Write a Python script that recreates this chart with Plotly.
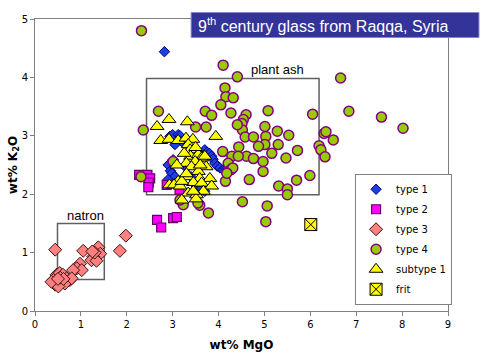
import plotly.graph_objects as go

# ---------------- data (wt% MgO, wt% K2O) ----------------
type1_x = [2.82, 2.94, 3.00, 3.12, 3.16, 3.05, 3.20, 2.90, 3.01, 2.95, 2.98, 3.05, 2.90, 3.10,
           3.70, 3.75, 3.80, 3.85, 3.88, 3.92, 3.97, 4.03, 4.10, 4.15, 4.20,
           3.50, 3.59, 3.63, 3.70, 3.40, 3.30, 3.55, 3.60]
type1_y = [4.44, 2.99, 3.02, 3.02, 3.00, 2.85, 2.90, 2.50, 2.59, 2.40, 2.36, 2.30, 2.25, 2.20,
           2.76, 2.72, 2.70, 2.65, 2.60, 2.53, 2.48, 2.45, 2.42, 2.45, 2.45,
           2.15, 2.19, 2.10, 2.05, 2.30, 2.45, 2.50, 2.60]

type2_x = [2.27, 2.45, 2.51, 2.48, 2.47, 2.87, 3.15, 2.66, 2.75, 3.01, 3.09]
type2_y = [2.33, 2.33, 2.27, 2.20, 2.12, 2.16, 2.08, 1.56, 1.43, 1.59, 1.61]

type3_x = [0.44, 1.05, 1.38, 1.42, 1.27, 1.23, 1.34, 0.98, 0.91, 1.02, 0.83, 1.85, 1.98,
           0.47, 0.54, 0.61, 0.40, 0.47, 0.44, 0.58, 0.69, 0.76, 0.65, 0.51, 0.80, 0.55,
           0.36, 0.62, 0.50, 1.30, 1.25]
type3_y = [1.05, 1.03, 1.09, 0.98, 0.93, 0.87, 0.86, 0.81, 0.73, 0.70, 0.70, 1.03, 1.29,
           0.62, 0.65, 0.62, 0.53, 0.50, 0.45, 0.50, 0.56, 0.53, 0.47, 0.42, 0.56, 0.57,
           0.50, 0.55, 0.55, 1.00, 1.02]

type4_x = [2.32, 4.10, 4.41, 4.14, 4.16, 4.32, 4.05, 3.71, 3.85, 2.69, 2.36, 3.50, 3.73, 4.27,
           4.60, 4.54, 4.51, 5.08, 6.05, 4.52, 4.58, 4.76, 5.03, 5.01, 5.28, 5.53, 5.01, 5.30,
           4.44, 4.87, 4.09, 5.16, 5.72, 4.61, 4.76, 4.29, 5.47, 4.21, 4.27, 4.97, 4.67, 5.70,
           5.99, 5.31, 5.50, 5.50, 6.19, 6.23, 6.32, 6.30, 6.34, 6.50, 6.66, 6.84, 7.55, 8.02,
           4.97, 4.31, 4.52, 5.06, 5.03, 4.15, 4.18, 3.01, 3.78, 3.59, 3.23, 2.31, 4.43, 4.41,
           3.16, 3.55]
type4_y = [4.80, 4.21, 4.01, 3.82, 3.67, 3.65, 3.53, 3.42, 3.35, 3.42, 3.10, 3.15, 3.15, 3.39,
           3.36, 3.28, 3.21, 3.43, 3.37, 3.10, 2.98, 2.98, 2.99, 3.16, 3.08, 3.01, 2.85, 2.85,
           2.81, 2.82, 2.73, 2.70, 2.75, 2.65, 2.61, 2.65, 2.62, 2.53, 2.42, 2.56, 2.25, 2.24,
           2.32, 2.14, 2.09, 1.99, 2.83, 2.76, 2.64, 3.04, 3.07, 2.93, 3.99, 3.42, 3.32, 3.13,
           2.39, 2.45, 1.87, 1.80, 1.53, 2.22, 2.36, 2.56, 1.68, 1.81, 1.82, 2.30, 2.65, 3.19,
           1.90, 1.85]

sub1_x = [2.92, 3.32, 2.66, 3.94, 2.74, 2.92, 3.12, 3.29, 3.44, 3.34, 3.38, 3.39, 3.56, 3.63,
          3.70, 3.49, 3.30, 3.09, 3.41, 3.73, 3.56, 3.34, 3.59, 3.81, 3.12, 2.93, 3.03, 3.16,
          3.45, 3.63, 3.85, 3.67, 3.34, 3.52, 3.20, 3.51, 3.20, 3.25, 3.50, 3.60, 3.30, 3.45]
sub1_y = [3.28, 3.24, 3.16, 2.99, 2.92, 2.94, 2.92, 2.96, 2.94, 2.85, 2.76, 2.65, 2.68, 2.62,
          2.65, 2.56, 2.53, 2.50, 2.47, 2.47, 2.39, 2.30, 2.27, 2.27, 2.22, 2.16, 2.16, 2.14,
          2.20, 2.19, 2.14, 2.05, 2.02, 1.99, 1.90, 1.92, 2.22, 2.70, 2.80, 2.50, 2.35, 2.05]

frit_x = [6.01]
frit_y = [1.48]

# ---------------- figure ----------------
fig = go.Figure()

fig.add_trace(go.Scatter(x=type1_x, y=type1_y, mode="markers", name="type 1", legendgroup="a",
                         marker=dict(symbol="diamond", size=8, color="#1F3FE0",
                                     line=dict(color="#000080", width=1))))
fig.add_trace(go.Scatter(x=type2_x, y=type2_y, mode="markers", name="type 2", legendgroup="b",
                         marker=dict(symbol="square", size=9, color="#FF00FF",
                                     line=dict(color="#660066", width=1.2))))
fig.add_trace(go.Scatter(x=type3_x, y=type3_y, mode="markers", name="type 3", legendgroup="c",
                         marker=dict(symbol="diamond", size=10, color="#FF8080",
                                     line=dict(color="#3a1010", width=1))))
fig.add_trace(go.Scatter(x=type4_x, y=type4_y, mode="markers", name="type 4", legendgroup="d",
                         marker=dict(symbol="circle", size=10, color="#99CC00",
                                     line=dict(color="#800080", width=1.5))))
fig.add_trace(go.Scatter(x=sub1_x, y=sub1_y, mode="markers", name="subtype 1", legendgroup="e",
                         marker=dict(symbol="triangle-up", size=12, color="#FFFF00",
                                     line=dict(color="#000000", width=1))))
fig.add_trace(go.Scatter(x=frit_x, y=frit_y, mode="markers", name="frit", legendgroup="f",
                         marker=dict(symbol="square-x", size=12, color="#FFFF00",
                                     line=dict(color="#000000", width=1))))

# group boxes
fig.add_shape(type="rect", x0=2.43, x1=6.19, y0=1.99, y1=3.98, layer="below",
              line=dict(color="#606060", width=1.5))
fig.add_shape(type="rect", x0=0.49, x1=1.51, y0=0.54, y1=1.50, layer="below",
              line=dict(color="#606060", width=1.5))
fig.add_annotation(x=5.29, y=4.13, text="plant ash", showarrow=False,
                   font=dict(family="Liberation Sans, Arial", size=13, color="#000000"))
fig.add_annotation(x=1.09, y=1.63, text="natron", showarrow=False,
                   font=dict(family="Liberation Sans, Arial", size=13, color="#000000"))

# title box
fig.add_shape(type="rect", xref="paper", yref="paper", x0=0.378, x1=1.075, y0=0.9365, y1=1.0223,
              layer="above", fillcolor="#333399", line=dict(color="#8888cc", width=1))
fig.add_annotation(xref="paper", yref="paper", x=0.390, y=0.979, xanchor="left", yanchor="middle",
                   text="9<sup>th</sup> century glass from Raqqa, Syria", showarrow=False,
                   font=dict(family="Liberation Sans, Arial", size=16, color="#FFFFFF"))

axis_common = dict(showgrid=False, zeroline=False, showline=True, linecolor="#808080", linewidth=1,
                   mirror=True, ticks="outside", ticklen=4, tickcolor="#808080", dtick=1,
                   automargin=False,
                   tickfont=dict(family="DejaVu Sans", size=10, color="#000000"))

fig.update_layout(
    width=480, height=360,
    margin=dict(l=35, r=32, t=19, b=49),
    paper_bgcolor="white", plot_bgcolor="white",
    xaxis=dict(range=[0, 9], title=dict(text="wt% MgO", standoff=11,
               font=dict(family="DejaVu Sans", size=12, color="#000000", weight="bold")),
               **axis_common),
    yaxis=dict(range=[0, 5], title=dict(text="wt% K<sub>2</sub>O", standoff=1,
               font=dict(family="DejaVu Sans", size=12, color="#000000", weight="bold")),
               **axis_common),
    showlegend=True,
    legend=dict(x=0.775, y=0.47, xanchor="left", yanchor="top", bgcolor="white",
                bordercolor="#808080", borderwidth=1, traceorder="grouped", tracegroupgap=1,
                font=dict(family="DejaVu Sans", size=10, color="#000000"),
                itemwidth=30),
)

fig.write_html("out.html", config={"displayModeBar": False},
               post_script="document.body.style.margin='0px';")
